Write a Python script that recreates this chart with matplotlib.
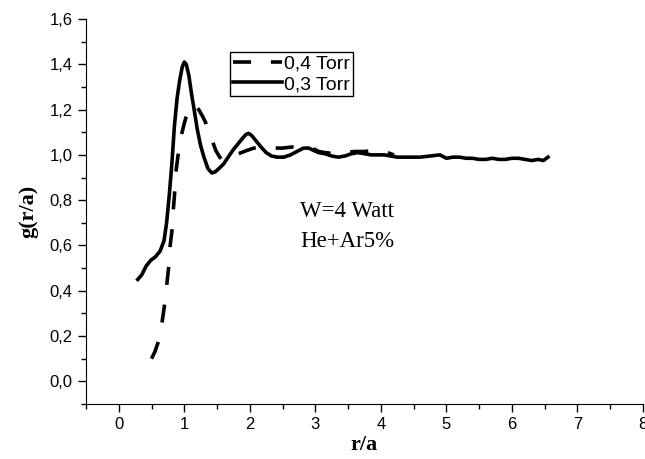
import numpy as np
import matplotlib
matplotlib.use("Agg")
import matplotlib.pyplot as plt
from matplotlib.ticker import MultipleLocator, FuncFormatter

# g(r/a) curves
r_03 = [0.29, 0.35, 0.42, 0.49, 0.56, 0.63, 0.69, 0.73, 0.77, 0.81, 0.85, 0.89,
        0.93, 0.97, 1.00, 1.03, 1.07, 1.11, 1.15, 1.20, 1.25, 1.30, 1.36, 1.42,
        1.47, 1.53, 1.60, 1.67, 1.74, 1.81, 1.88, 1.94, 1.98, 2.03, 2.10, 2.17,
        2.25, 2.33, 2.42, 2.52, 2.62, 2.72, 2.82, 2.90, 2.97, 3.05, 3.15, 3.25,
        3.35, 3.45, 3.55, 3.65, 3.75, 3.85, 3.95, 4.05, 4.15, 4.25, 4.40, 4.60,
        4.75, 4.90, 5.00, 5.10, 5.20, 5.30, 5.40, 5.50, 5.60, 5.70, 5.80, 5.90,
        6.00, 6.10, 6.20, 6.30, 6.40, 6.48, 6.55]
g_03 = [0.45, 0.47, 0.51, 0.535, 0.55, 0.575, 0.62, 0.70, 0.82, 0.96, 1.13, 1.25,
        1.33, 1.39, 1.41, 1.40, 1.35, 1.27, 1.20, 1.11, 1.04, 0.99, 0.94, 0.92,
        0.925, 0.94, 0.96, 0.99, 1.02, 1.045, 1.07, 1.09, 1.095, 1.085, 1.06, 1.035,
        1.01, 0.995, 0.99, 0.99, 1.00, 1.015, 1.03, 1.03, 1.02, 1.01, 1.005, 0.995,
        0.99, 0.995, 1.005, 1.01, 1.005, 1.0, 1.0, 1.0, 0.995, 0.99, 0.99, 0.99,
        0.995, 1.0, 0.985, 0.99, 0.99, 0.985, 0.985, 0.98, 0.98, 0.985, 0.98, 0.98,
        0.985, 0.985, 0.98, 0.975, 0.98, 0.975, 0.99]

r_04 = [0.50, 0.55, 0.61, 0.66, 0.70, 0.73, 0.76, 0.78, 0.81, 0.83, 0.85, 0.87,
        0.91, 0.95, 1.00, 1.05, 1.10, 1.16, 1.22, 1.28, 1.33, 1.38, 1.43, 1.48,
        1.54, 1.59, 1.64, 1.70, 1.78, 1.87, 1.96, 2.06, 2.20, 2.35, 2.50, 2.65,
        2.80, 2.95, 3.05, 3.15, 3.30, 3.45, 3.60, 3.75, 3.90, 4.05, 4.20]
g_04 = [0.10, 0.13, 0.18, 0.26, 0.34, 0.42, 0.50, 0.59, 0.66, 0.75, 0.82, 0.92,
        1.01, 1.08, 1.14, 1.19, 1.215, 1.22, 1.20, 1.17, 1.14, 1.10, 1.06, 1.02,
        0.99, 0.975, 0.98, 0.99, 1.00, 1.01, 1.02, 1.03, 1.03, 1.03, 1.03, 1.035,
        1.035, 1.03, 1.015, 1.01, 1.005, 1.01, 1.015, 1.015, 1.02, 1.015, 1.00]

labels = ["0,4 Torr", "0,3 Torr"]
notes = ["W=4 Watt", "He+Ar5%"]

plt.rcParams["font.family"] = "Liberation Sans"

fig = plt.figure(figsize=(6.45, 4.59), dpi=100)
ax = fig.add_axes([86 / 645, 55 / 459, 557 / 645, 385 / 459])

ax.plot(r_04, g_04, color="black", lw=2.6, linestyle=(0, (5, 5.5)), label=labels[0])
ax.plot(r_03, g_03, color="black", lw=2.6, label=labels[1])

ax.set_xlim(-0.5, 8)
ax.set_ylim(-0.1, 1.6)
ax.spines["top"].set_visible(False)
ax.spines["right"].set_visible(False)
ax.spines["left"].set_bounds(-0.1, 1.6)

ax.xaxis.set_major_locator(MultipleLocator(1))
ax.xaxis.set_minor_locator(MultipleLocator(0.5))
ax.yaxis.set_major_locator(MultipleLocator(0.2))
ax.yaxis.set_minor_locator(MultipleLocator(0.1))
ax.yaxis.set_major_formatter(FuncFormatter(lambda v, p: f"{v:.1f}".replace(".", ",")))
ax.tick_params(which="major", length=6, width=1, labelsize=12)
ax.tick_params(which="minor", length=3.5, width=1)

ax.set_xlabel("r/a", family="Liberation Serif", fontweight="bold", fontsize=16, labelpad=2)
ax.set_ylabel("g(r/a)", family="Liberation Serif", fontweight="bold", fontsize=16, labelpad=8)

ax.text(2.77, 0.724, notes[0], family="Liberation Serif", fontsize=16.5, va="baseline")
ax.text(2.77, 0.592, notes[1], family="Liberation Serif", fontsize=16.5, va="baseline")

leg = ax.legend(loc="upper left", bbox_to_anchor=(0.259, 0.914), borderaxespad=0,
                fontsize=14, handlelength=2.5, handletextpad=0.1, borderpad=0.15,
                labelspacing=0.15, fancybox=False, framealpha=1)
leg.get_frame().set_edgecolor("black")
leg.get_frame().set_linewidth(1)

fig.savefig("out.png", dpi=100)
